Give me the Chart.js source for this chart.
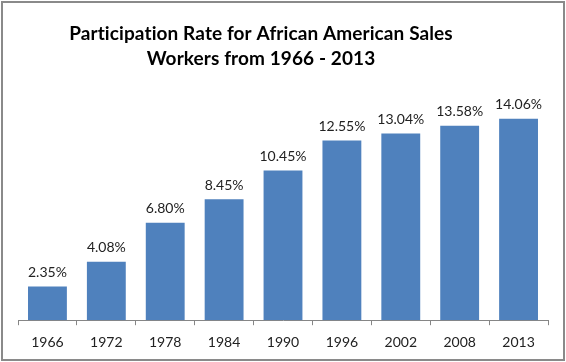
<!DOCTYPE html>
<html>
<head>
<meta charset="utf-8">
<script src="https://cdn.jsdelivr.net/npm/chart.js@4"></script>
<style>
  html, body { margin: 0; padding: 0; background: #fff; }
  canvas { display: block; }
</style>
</head>
<body>
<canvas id="chart" width="566" height="362"></canvas>
<script>
// datos
const years = ["1966", "1972", "1978", "1984", "1990", "1996", "2002", "2008", "2013"];
const rates = [2.35, 4.08, 6.80, 8.45, 10.45, 12.55, 13.04, 13.58, 14.06];
const titleLines = ["Participation Rate for African American Sales", "Workers from 1966 - 2013"];

const FONT = "Lato, 'DejaVu Sans', sans-serif";

// marco gris y título (en el original el título no está centrado)
const frame = {
    id: "frame",
    beforeDraw(chart) {
        const { ctx, width, height } = chart;
        ctx.save();
        ctx.fillStyle = "#fff";
        ctx.fillRect(0, 0, width, height);
        ctx.strokeStyle = "#8a8a8a";
        ctx.lineWidth = 2;
        ctx.strokeRect(2, 2, width - 4, height - 4);

        ctx.font = "bold 19px " + FONT;
        ctx.fillStyle = "#000";
        ctx.textAlign = "center";
        ctx.textBaseline = "middle";
        ctx.textRendering = "optimizeSpeed"; // sin ligadura "ti"
        ctx.letterSpacing = "0.1px";
        titleLines.forEach((t, i) => ctx.fillText(t, 261, 34 + i * 24.5));
        ctx.restore();
    }
};

// etiquetas de porcentaje encima de cada barra
const barLabels = {
    id: "barLabels",
    afterDatasetsDraw(chart) {
        const { ctx } = chart;
        const meta = chart.getDatasetMeta(0);
        ctx.save();
        ctx.font = "14px " + FONT;
        ctx.fillStyle = "#222";
        ctx.textAlign = "center";
        ctx.textBaseline = "middle";
        meta.data.forEach((bar, i) => {
            ctx.fillText(rates[i].toFixed(2) + "%", bar.x, bar.y - 14);
        });
        ctx.restore();
    }
};

new Chart(document.getElementById("chart"), {
    type: "bar",
    data: {
        labels: years,
        datasets: [{
            data: rates,
            backgroundColor: "#4f81bd",
            borderWidth: 0,
            categoryPercentage: 1,
            barPercentage: 0.66
        }]
    },
    options: {
        responsive: false,
        animation: false,
        devicePixelRatio: 1,
        layout: {
            padding: { left: 18, right: 18, top: 91, bottom: 2 }
        },
        plugins: {
            legend: { display: false },
            tooltip: { enabled: false },
            title: { display: false }
        },
        scales: {
            x: {
                grid: {
                    offset: true,
                    drawOnChartArea: false,
                    drawTicks: true,
                    tickLength: 5,
                    color: "#868686"
                },
                border: { display: true, color: "#868686", width: 1 },
                ticks: {
                    color: "#222",
                    padding: 9,
                    maxRotation: 0,
                    font: { family: FONT, size: 14 }
                }
            },
            y: {
                display: false,
                min: 0,
                max: 16
            }
        }
    },
    plugins: [frame, barLabels]
});
</script>
</body>
</html>
